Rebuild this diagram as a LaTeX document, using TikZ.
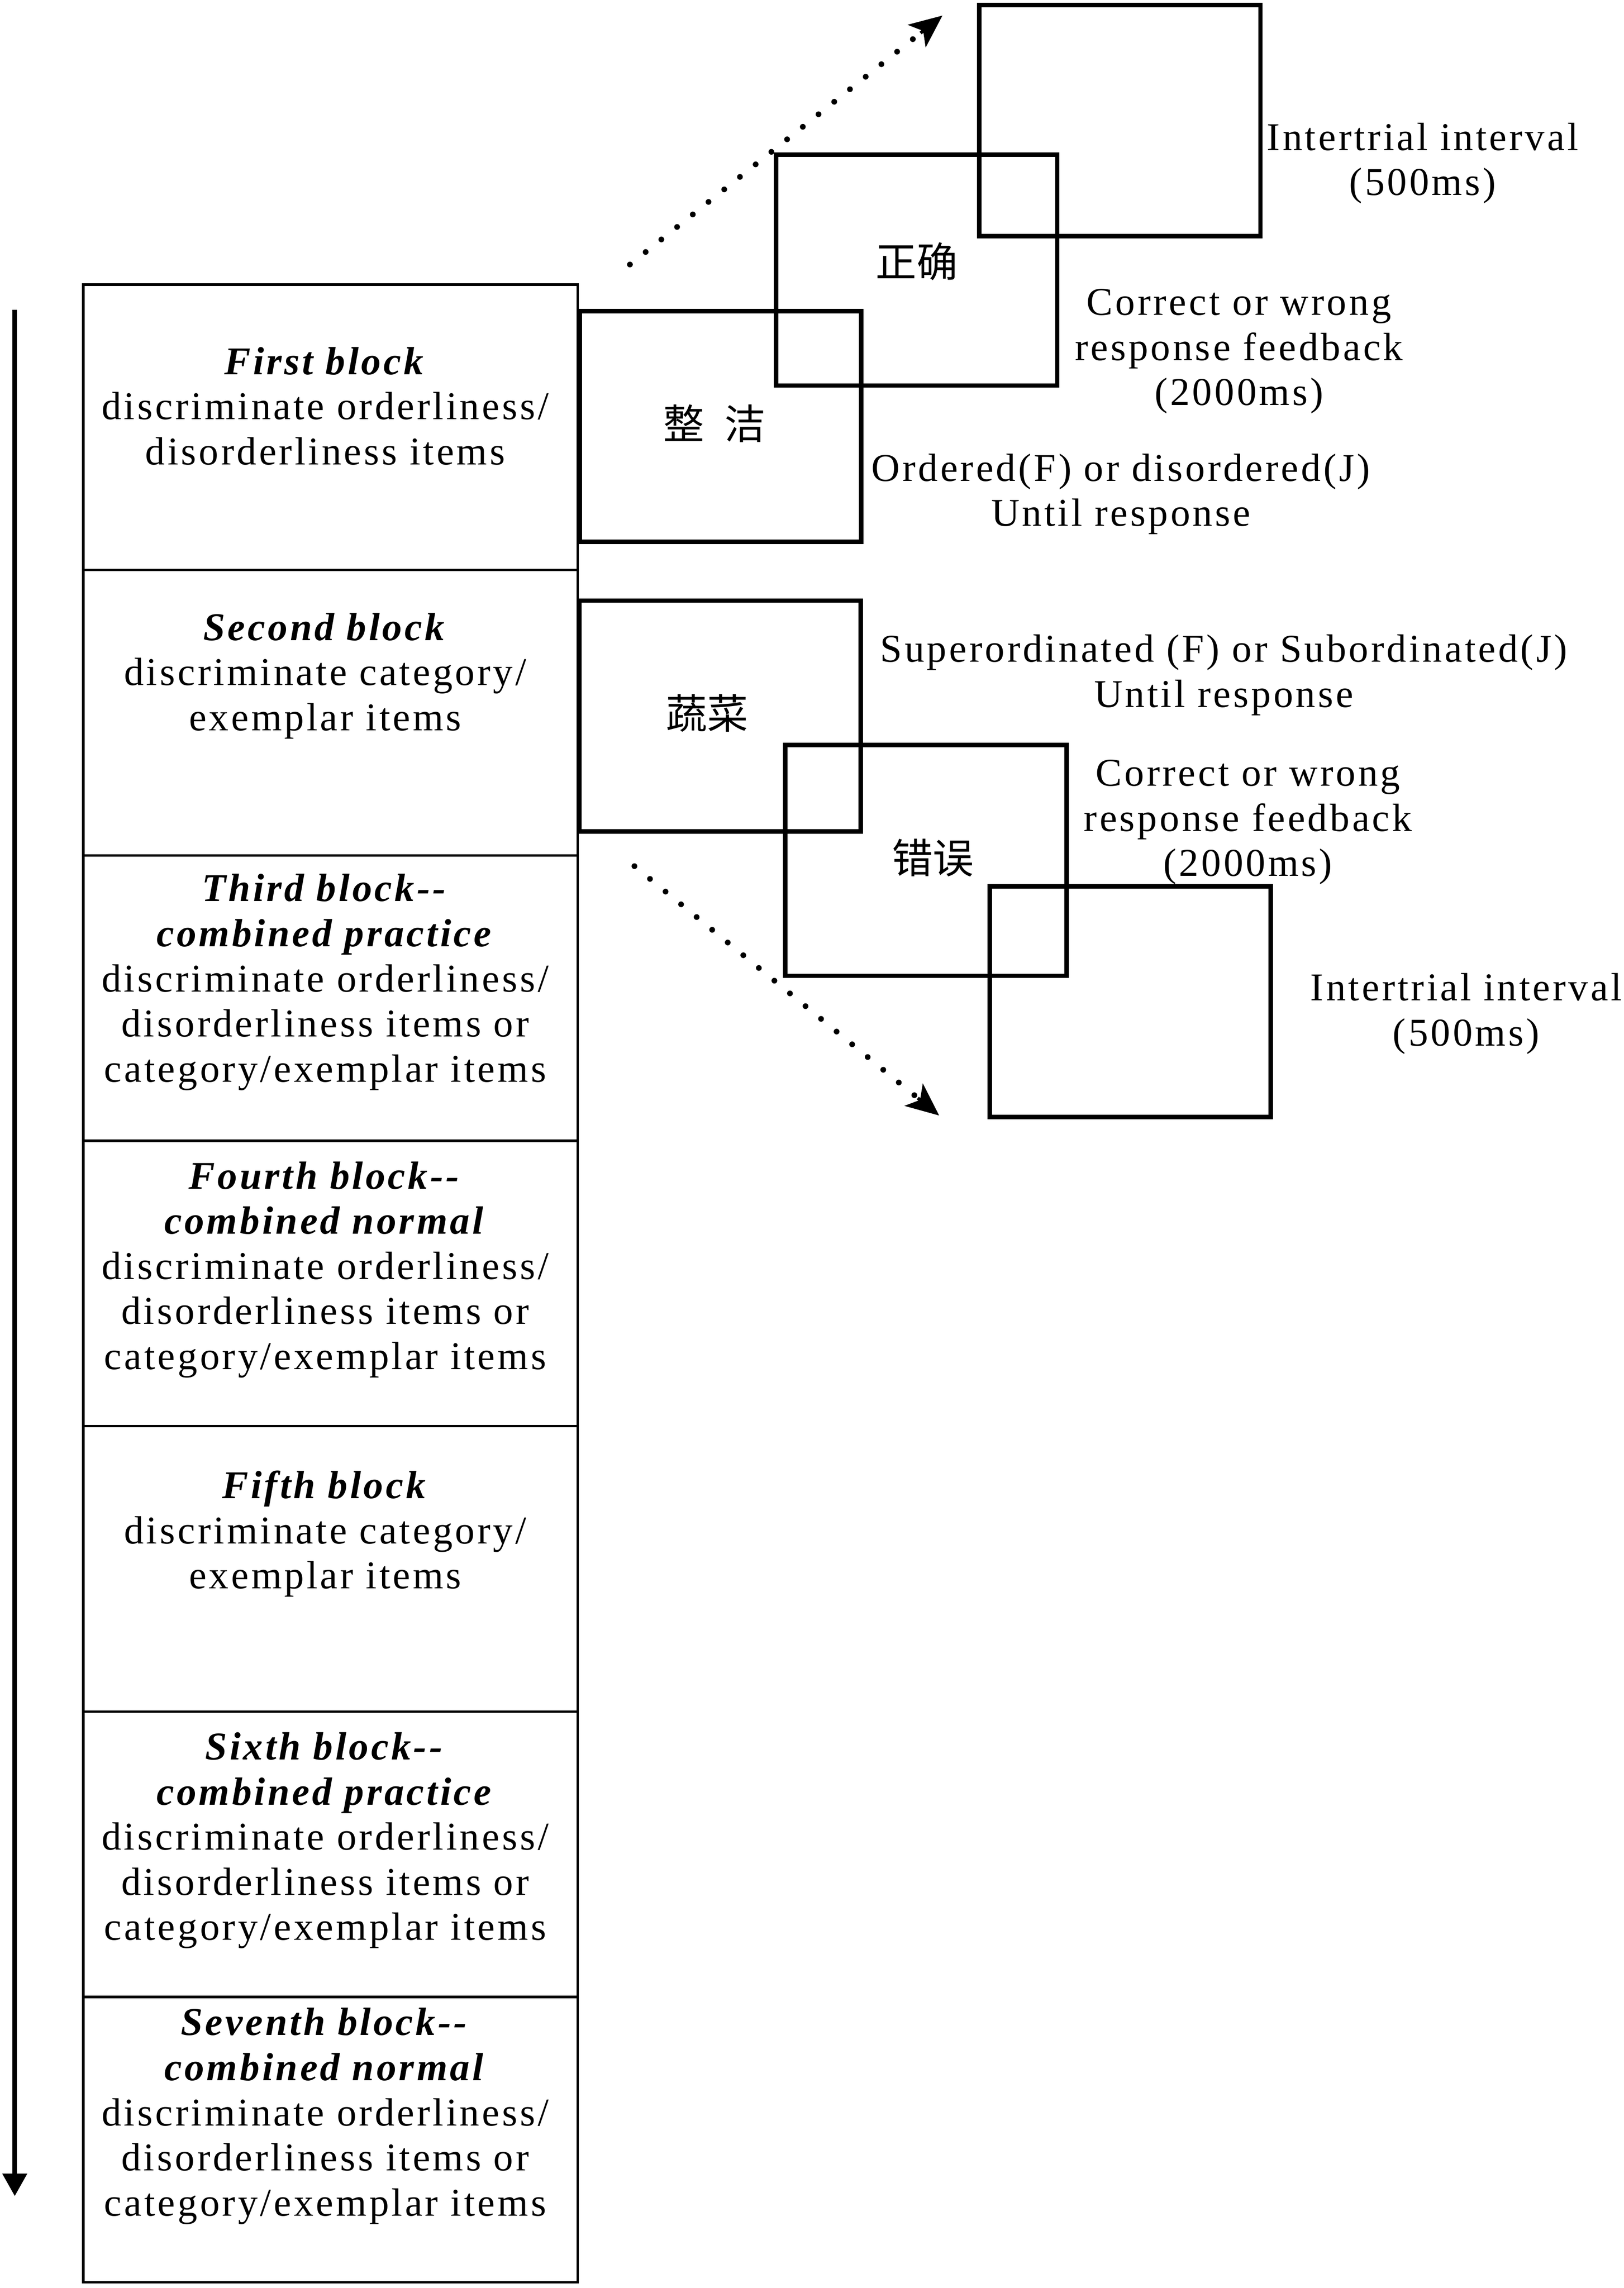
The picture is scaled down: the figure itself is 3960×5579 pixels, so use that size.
\documentclass[tikz,border=0pt]{standalone}
\usepackage{fontspec}
\setmainfont{Liberation Serif}[LetterSpace=6.5]
\newfontfamily\cjk{Noto Sans CJK SC}
\usetikzlibrary{arrows.meta,calc}
\begin{document}
\begin{tikzpicture}[x=0.1pt,y=-0.1pt,
  blockbox/.style={draw, line width=0.6pt, minimum width=120.6pt, minimum height=69.59pt, inner sep=0pt, outer sep=0pt},
  stimbox/.style={draw, line width=1.1pt, minimum width=68.6pt, minimum height=56.3pt, inner sep=0pt, outer sep=0pt},
  txt/.style={font=\fontsize{9.6}{11}\selectfont, align=center, inner sep=0pt},
  cjktxt/.style={font=\cjk\fontsize{10}{11}\selectfont, inner sep=0pt},
  dotline/.style={line width=1.4pt, line cap=round, dash pattern=on 0pt off 4.9pt},
  dottip/.style={line width=0.8pt, -{Stealth[length=8pt,width=7pt,inset=2pt]}},
  timearrow/.style={line width=1.1pt, -{Triangle[length=5.5pt,width=5.8pt]}}]
\useasboundingbox (0,0) rectangle (3960,5579);

% block column
\node[blockbox] (b1) at (806,1042) {};
\node[blockbox] (b2) at (806,1737.9) {};
\node[blockbox] (b3) at (806,2433.8) {};
\node[blockbox] (b4) at (806,3129.7) {};
\node[blockbox] (b5) at (806,3825.6) {};
\node[blockbox] (b6) at (806,4521.5) {};
\node[blockbox] (b7) at (806,5217.4) {};

\node[txt] (t1) at (793,990) {\textbf{\textit{First block}}\\discriminate orderliness/\\disorderliness items};
\node[txt] (t2) at (793,1648) {\textbf{\textit{Second block}}\\discriminate category/\\exemplar items};
\node[txt] (t3) at (793,2395) {\textbf{\textit{Third block-{}-}}\\\textbf{\textit{combined practice}}\\discriminate orderliness/\\disorderliness items or\\category/exemplar items};
\node[txt] (t4) at (793,3096) {\textbf{\textit{Fourth block-{}-}}\\\textbf{\textit{combined normal}}\\discriminate orderliness/\\disorderliness items or\\category/exemplar items};
\node[txt] (t5) at (793,3740) {\textbf{\textit{Fifth block}}\\discriminate category/\\exemplar items};
\node[txt] (t6) at (793,4488) {\textbf{\textit{Sixth block-{}-}}\\\textbf{\textit{combined practice}}\\discriminate orderliness/\\disorderliness items or\\category/exemplar items};
\node[txt] (t7) at (793,5160) {\textbf{\textit{Seventh block-{}-}}\\\textbf{\textit{combined normal}}\\discriminate orderliness/\\disorderliness items or\\category/exemplar items};

% time line
\coordinate (tlstart) at (36,755);
\coordinate (tlend) at (36,5355);
\draw[timearrow] (tlstart) -- (tlend);

% upper trial
\node[stimbox] (sa) at (1756.5,1040) {};
\node[stimbox] (sb) at (2235,658.5) {};
\node[stimbox] (sc) at (2730.5,294) {};
\node[cjktxt] (ca) at (1742,1033) {整\hspace{5pt}洁};
\node[cjktxt] (cb) at (2235,637) {正确};
\node[txt] (la) at (3469,398) {Intertrial interval\\(500ms)};
\node[txt] (lb) at (3021,857) {Correct or wrong\\response feedback\\(2000ms)};
\node[txt] (lc) at (2733,1205) {Ordered(F) or disordered(J)\\Until response};
\coordinate (ua) at (1536,645);
\coordinate (ub) at (2298,38);
\draw[dotline] (ua) -- ($(ua)!0.93!(ub)$);
\draw[dottip] ($(ua)!0.93!(ub)$) -- (ub);

% lower trial
\node[stimbox] (sd) at (1756,1746) {};
\node[stimbox] (se) at (2258,2098) {};
\node[stimbox] (sf) at (2756,2442.5) {};
\node[cjktxt] (cd) at (1724,1739) {蔬菜};
\node[cjktxt] (ce) at (2275,2092) {错误};
\node[txt] (ld) at (2984,1646) {Superordinated (F) or Subordinated(J)\\Until response};
\node[txt] (le) at (3043,2005) {Correct or wrong\\response feedback\\(2000ms)};
\node[txt] (lf) at (3575,2472) {Intertrial interval\\(500ms)};
\coordinate (da) at (1547,2112);
\coordinate (db) at (2290,2720);
\draw[dotline] (da) -- ($(da)!0.93!(db)$);
\draw[dottip] ($(da)!0.93!(db)$) -- (db);
\end{tikzpicture}
\end{document}
